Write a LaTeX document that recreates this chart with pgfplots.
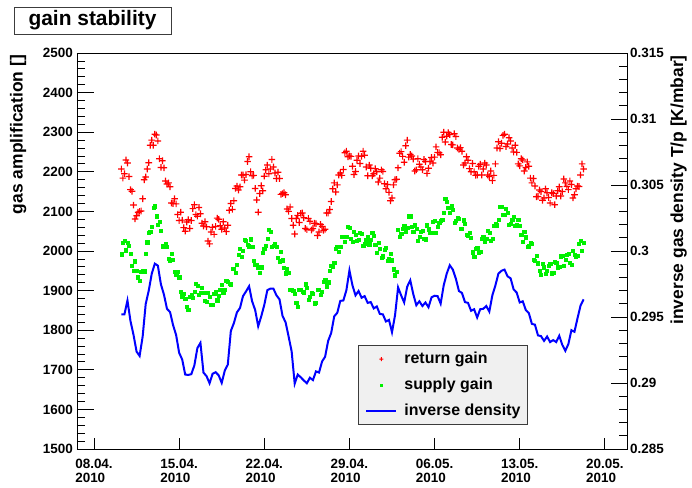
\documentclass[border=0pt]{standalone}
\usepackage{fontspec}
\setmainfont{Liberation Sans}
\usepackage{pgfplots}
\usepackage{pgfplotstable}
\pgfplotsset{compat=1.18}

\definecolor{rootred}{RGB}{255,0,0}
\definecolor{rootgreen}{RGB}{0,240,0}
\definecolor{rootblue}{RGB}{0,0,255}
\definecolor{legfill}{RGB}{240,240,240}
\definecolor{framegray}{RGB}{60,60,60}

% filled plus sign, so that the marker colour is a fill colour
\pgfdeclareplotmark{fplus}{%
  \pgfpathrectangle{\pgfpoint{-\pgfplotmarksize}{-0.6bp}}{\pgfpoint{2\pgfplotmarksize}{1.2bp}}%
  \pgfpathrectangle{\pgfpoint{-0.6bp}{-\pgfplotmarksize}}{\pgfpoint{1.2bp}{2\pgfplotmarksize}}%
  \pgfusepathqfill}

% day = days since 08.04.2010, ret/sup = gas amplification, inv = T/p [K/mbar]
\pgfplotstableread{
day ret sup inv
2.25 2207 1992 0.2952
2.50 2195 2025 0.2952
2.75 2222 2021 0.29625
3.00 2155 1994 0.29469
3.25 2116 1951 0.29364
3.50 2089 1951 0.29238
3.75 2100 1924 0.29205
4.00 2132 1950 0.29352
4.25 2187 1993 0.29598
4.50 2223 2047 0.297
4.75 2280 2062 0.29829
5.00 2295 2113 0.29904
5.25 2278 2066 0.29889
5.50 2211 2051 0.29748
5.75 2210 2012 0.2967
6.00 2169 2010 0.29562
6.25 2162 1977 0.29538
6.50 2120 1978 0.29439
6.75 2119 1941 0.29364
7.00 2077 1934 0.29229
7.25 2078 1886 0.29178
7.50 2050 1880 0.29064
7.75 2079 1851 0.29061
8.00 2077 1890 0.29067
8.25 2117 1898 0.29133
8.50 2088 1913 0.29265
8.75 2094 1895 0.29304
9.00 2063 1895 0.29079
9.25 2061 1871 0.29052
9.50 2018 1884 0.28998
9.75 2060 1865 0.2907
10.00 2062 1897 0.29082
10.25 2080 1888 0.29058
10.50 2055 1915 0.29001
10.75 2058 1902 0.29094
11.00 2065 1923 0.29139
11.25 2120 1916 0.29394
11.50 2127 1955 0.29454
11.75 2164 1965 0.29535
12.00 2162 2005 0.29568
12.25 2192 2001 0.29658
12.50 2193 2025 0.29694
12.75 2238 2012 0.29733
13.00 2190 2011 0.29619
13.25 2158 1966 0.29553
13.50 2098 1957 0.2943
13.75 2165 1959 0.29505
14.00 2189 2005 0.29592
14.25 2217 2032 0.29703
14.50 2207 2048 0.29715
14.75 2212 2014 0.29715
15.00 2183 2011 0.29664
15.25 2183 1974 0.29634
15.50 2145 1977 0.29508
15.75 2142 1944 0.2946
16.00 2100 1945 0.29352
16.25 2082 1903 0.29238
16.50 2043 1892 0.28995
16.75 2090 1859 0.29064
17.00 2095 1903 0.29043
17.25 2084 1896 0.29019
17.50 2054 1908 0.28998
17.75 2075 1884 0.2904
18.00 2057 1892 0.29022
18.25 2069 1870 0.29088
18.50 2048 1903 0.29079
18.75 2062 1898 0.29163
19.00 2055 1927 0.29199
19.25 2096 1921 0.29319
19.50 2125 1963 0.29379
19.75 2172 1971 0.29505
20.00 2167 2010 0.29532
20.25 2197 2010 0.29622
20.50 2206 2037 0.29625
20.75 2252 2037 0.29703
21.00 2240 2058 0.29853
21.25 2214 2023 0.29739
21.50 2201 2041 0.29664
21.75 2240 2028 0.29697
22.00 2239 2044 0.29646
22.25 2242 2018 0.29658
22.50 2190 2035 0.29607
22.75 2209 2028 0.29613
23.00 2195 2039 0.29565
23.25 2200 1996 0.2958
23.50 2184 2006 0.29523
23.75 2201 1987 0.2952
24.00 2157 2008 0.29466
24.25 2148 1980 0.29478
24.50 2134 1977 0.29385
24.75 2180 1939 0.29514
25.00 2210 2053 0.29724
25.25 2251 2044 0.29664
25.50 2224 2064 0.2961
25.75 2280 2059 0.2973
26.00 2244 2088 0.29778
26.25 2232 2048 0.29673
26.50 2205 2056 0.29589
26.75 2219 2036 0.29619
27.00 2205 2051 0.29583
27.25 2226 2030 0.2961
27.50 2209 2055 0.29574
27.75 2236 2047 0.29649
28.00 2237 2077 0.29661
28.25 2249 2062 0.29658
28.50 2243 2077 0.29601
28.75 2300 2097 0.29739
29.00 2290 2125 0.29829
29.25 2294 2097 0.29892
29.50 2268 2105 0.29859
29.75 2289 2076 0.2979
30.00 2257 2082 0.29697
30.25 2252 2056 0.29682
30.50 2222 2068 0.29613
30.75 2229 2038 0.29607
31.00 2200 2034 0.29547
31.25 2200 1986 0.29559
31.50 2192 2007 0.29496
31.75 2219 1999 0.29559
32.00 2207 2037 0.29562
32.25 2217 2032 0.29583
32.50 2188 2047 0.29541
32.75 2178 2031 0.29664
33.00 2220 2068 0.29739
33.25 2276 2079 0.29829
33.50 2272 2111 0.2985
33.75 2295 2092 0.29859
34.00 2270 2097 0.29808
34.25 2278 2069 0.29793
34.50 2250 2087 0.29709
34.75 2249 2067 0.29685
35.00 2215 2064 0.2961
35.25 2230 2023 0.29619
35.50 2211 2035 0.29553
35.75 2214 2012 0.29529
36.00 2172 2018 0.29448
36.25 2164 1976 0.29442
36.50 2138 1969 0.29361
36.75 2150 1940 0.29355
37.00 2134 1959 0.29319
37.25 2147 1951 0.29352
37.50 2121 1967 0.2931
37.75 2145 1946 0.29325
38.00 2139 1970 0.2931
38.25 2162 1960 0.29358
38.50 2150 1988 0.29289
38.75 2172 1978 0.29244
39.00 2155 1993 0.29295
39.25 2168 1965 0.294
39.50 2142 1990 0.29388
39.75 2164 1989 0.2949
40.00 2192 2027 0.29586
40.25 2207 2020 0.29634
}\gaindata

% readings taken between the rows above (gain only)
\pgfplotstableread{
day ret sup
2.375 2184 2021
2.625 2230 2002
2.875 2188 2013
3.125 2151 1963
3.375 2081 1974
3.625 2098 1934
3.875 2101 1948
4.125 2180 1949
4.375 2207 2022
4.625 2267 2048
4.875 2267 2109
5.125 2293 2088
5.375 2233 2073
5.625 2228 2012
5.875 2177 2017
6.125 2172 1981
6.375 2121 1993
6.625 2132 1948
6.875 2092 1948
7.125 2098 1897
7.375 2059 1892
7.625 2073 1859
7.875 2057 1885
8.125 2107 1883
8.375 2092 1918
8.625 2110 1890
8.875 2070 1908
9.125 2074 1874
9.375 2025 1895
9.625 2048 1865
9.875 2042 1892
10.125 2083 1876
10.375 2064 1903
10.625 2074 1894
10.875 2049 1926
11.125 2103 1917
11.375 2105 1955
11.625 2158 1946
11.875 2154 1991
12.125 2192 1985
12.375 2179 2029
12.625 2226 2015
12.875 2200 2030
13.125 2191 1976
13.375 2129 1965
13.625 2145 1946
13.875 2152 1996
14.125 2205 2013
14.375 2195 2053
14.625 2231 2010
14.875 2197 2018
15.125 2199 1983
15.375 2143 1998
15.625 2147 1957
15.875 2106 1956
16.125 2111 1902
16.375 2065 1899
16.625 2082 1869
16.875 2072 1902
17.125 2096 1898
17.375 2057 1916
17.625 2082 1877
17.875 2053 1894
18.125 2070 1868
18.375 2039 1902
18.625 2067 1889
18.875 2052 1923
19.125 2096 1911
19.375 2105 1951
19.625 2157 1960
19.875 2149 2005
20.125 2192 1999
20.375 2191 2036
20.625 2248 2023
20.875 2238 2061
21.125 2239 2032
21.375 2193 2049
21.625 2229 2025
21.875 2221 2047
22.125 2252 2014
22.375 2212 2028
22.625 2217 2017
22.875 2190 2047
23.125 2208 2015
23.375 2174 2021
23.625 2205 1983
23.875 2170 2004
24.125 2168 1976
24.375 2127 1994
24.625 2167 1954
24.875 2181 1948
25.125 2247 2036
25.375 2239 2057
25.625 2266 2049
25.875 2237 2088
26.125 2240 2062
26.375 2202 2065
26.625 2233 2025
26.875 2212 2049
27.125 2231 2031
27.375 2196 2065
27.625 2226 2047
27.875 2222 2073
28.125 2263 2047
28.375 2248 2071
28.625 2287 2080
28.875 2275 2132
29.125 2299 2109
29.375 2269 2115
29.625 2296 2071
29.875 2260 2085
30.125 2261 2056
30.375 2217 2078
30.625 2238 2042
30.875 2208 2047
31.125 2221 1997
31.375 2191 2005
31.625 2214 1996
31.875 2192 2032
32.125 2222 2023
32.375 2192 2052
32.625 2202 2025
32.875 2191 2063
33.125 2260 2065
33.375 2259 2112
33.625 2292 2092
33.875 2264 2106
34.125 2286 2066
34.375 2260 2080
34.625 2267 2063
34.875 2220 2079
35.125 2233 2041
35.375 2202 2049
35.625 2225 2010
35.875 2184 2021
36.125 2183 1979
36.375 2137 1988
36.625 2154 1951
36.875 2128 1968
37.125 2157 1942
37.375 2135 1962
37.625 2147 1944
37.875 2117 1972
38.125 2152 1959
38.375 2139 1987
38.625 2182 1962
38.875 2163 1991
39.125 2177 1970
39.375 2134 2000
39.625 2157 1986
39.875 2163 2019
40.125 2220 2001
}\gaindatab

\pgfplotsset{
  common/.style={
    scale only axis, width=550bp, height=396bp,
    xmin=-1.398, xmax=43.82,
    tick align=inside,
    axis line style={line width=0.9bp, black},
    every tick/.style={black, line width=0.8bp},
    major tick length=16.5bp,
    minor tick length=8bp,
    /pgf/number format/assume math mode=true,
    /pgf/number format/1000 sep={},
    tick label style={font=\fontsize{13.5}{14}\selectfont\bfseries, inner sep=0pt},
  },
  retstyle/.style={only marks, mark=fplus, mark size=3.3bp, color=rootred, fill=rootred,
    mark options={fill=rootred, draw=none}},
  supstyle/.style={only marks, mark=square*, mark size=1.6bp, color=rootgreen,
    mark options={fill=rootgreen, draw=rootgreen, line width=0.4bp}},
  invstyle/.style={no marks, color=rootblue, line width=2bp},
}

\begin{document}
\begin{tikzpicture}
\begin{axis}[common,
  ymin=1500, ymax=2500,
  xtick={0,7,14,21,28,35,42},
  xticklabels={{08.04.\\2010},{15.04.\\2010},{22.04.\\2010},{29.04.\\2010},{06.05.\\2010},{13.05.\\2010},{20.05.\\2010}},
  x tick label style={align=left, anchor=north, yshift=-10bp},
  xtick style={/pgfplots/major tick length=11bp},
  xtick pos=bottom, ytick pos=left,
  ytick={1500,1600,...,2500},
  minor y tick num=4,
  y tick label style={anchor=east, xshift=-4bp},
  ylabel={gas amplification []},
  every axis y label/.style={at={(axis description cs:-0.0989,0.995)}, rotate=90,
    anchor=base east, inner sep=0pt, font=\fontsize{17.5}{20}\selectfont\bfseries},
]
\addplot[retstyle] table[x=day, y=ret] {\gaindata};
\addplot[retstyle] table[x=day, y=ret] {\gaindatab};
\addplot[supstyle] table[x=day, y=sup] {\gaindata};
\addplot[supstyle] table[x=day, y=sup] {\gaindatab};
\end{axis}

\begin{axis}[common,
  axis y line*=right, axis x line=none,
  ymin=0.285, ymax=0.315,
  ytick={0.285,0.29,0.295,0.3,0.305,0.31,0.315},
  minor y tick num=4,
  scaled y ticks=false,
  yticklabel style={anchor=west, xshift=3bp, /pgf/number format/fixed, /pgf/number format/precision=3},
  ylabel={inverse gas density T/p [K/mbar]},
  every axis y label/.style={at={(axis description cs:1.1018,0.995)}, rotate=90,
    anchor=base east, inner sep=0pt, font=\fontsize{17.5}{20}\selectfont\bfseries},
  legend image code/.code={\draw[mark repeat=2, mark phase=2, #1] plot coordinates {(0bp,0bp) (15bp,0bp) (30bp,0bp)};},
  legend cell align=left,
  legend style={at={(axis description cs:0.5109,0.0606)}, anchor=south west,
    draw=framegray, fill=legfill, line width=0.8bp,
    inner xsep=7bp, inner ysep=5.5bp, row sep=10bp, column sep=7bp,
    font=\fontsize{16}{18}\selectfont\bfseries,
    nodes={inner sep=0pt, text height=12bp, text depth=4bp}},
]
\addlegendimage{retstyle, mark size=2bp}
\addlegendentry{return gain}
\addlegendimage{supstyle, mark size=1.2bp}
\addlegendentry{supply gain}
\addplot[invstyle] table[x=day, y=inv] {\gaindata};
\addlegendentry{inverse density}
\end{axis}

\node[draw=framegray, fill=white, line width=0.8bp, minimum width=157bp, minimum height=27bp,
  inner sep=0pt, font=\fontsize{21}{24}\selectfont\bfseries] at (15.5bp,428.5bp) {gain stability};

\pgfresetboundingbox
\path[use as bounding box] (-77bp,-39bp) rectangle (615bp,449bp);
\end{tikzpicture}
\end{document}
